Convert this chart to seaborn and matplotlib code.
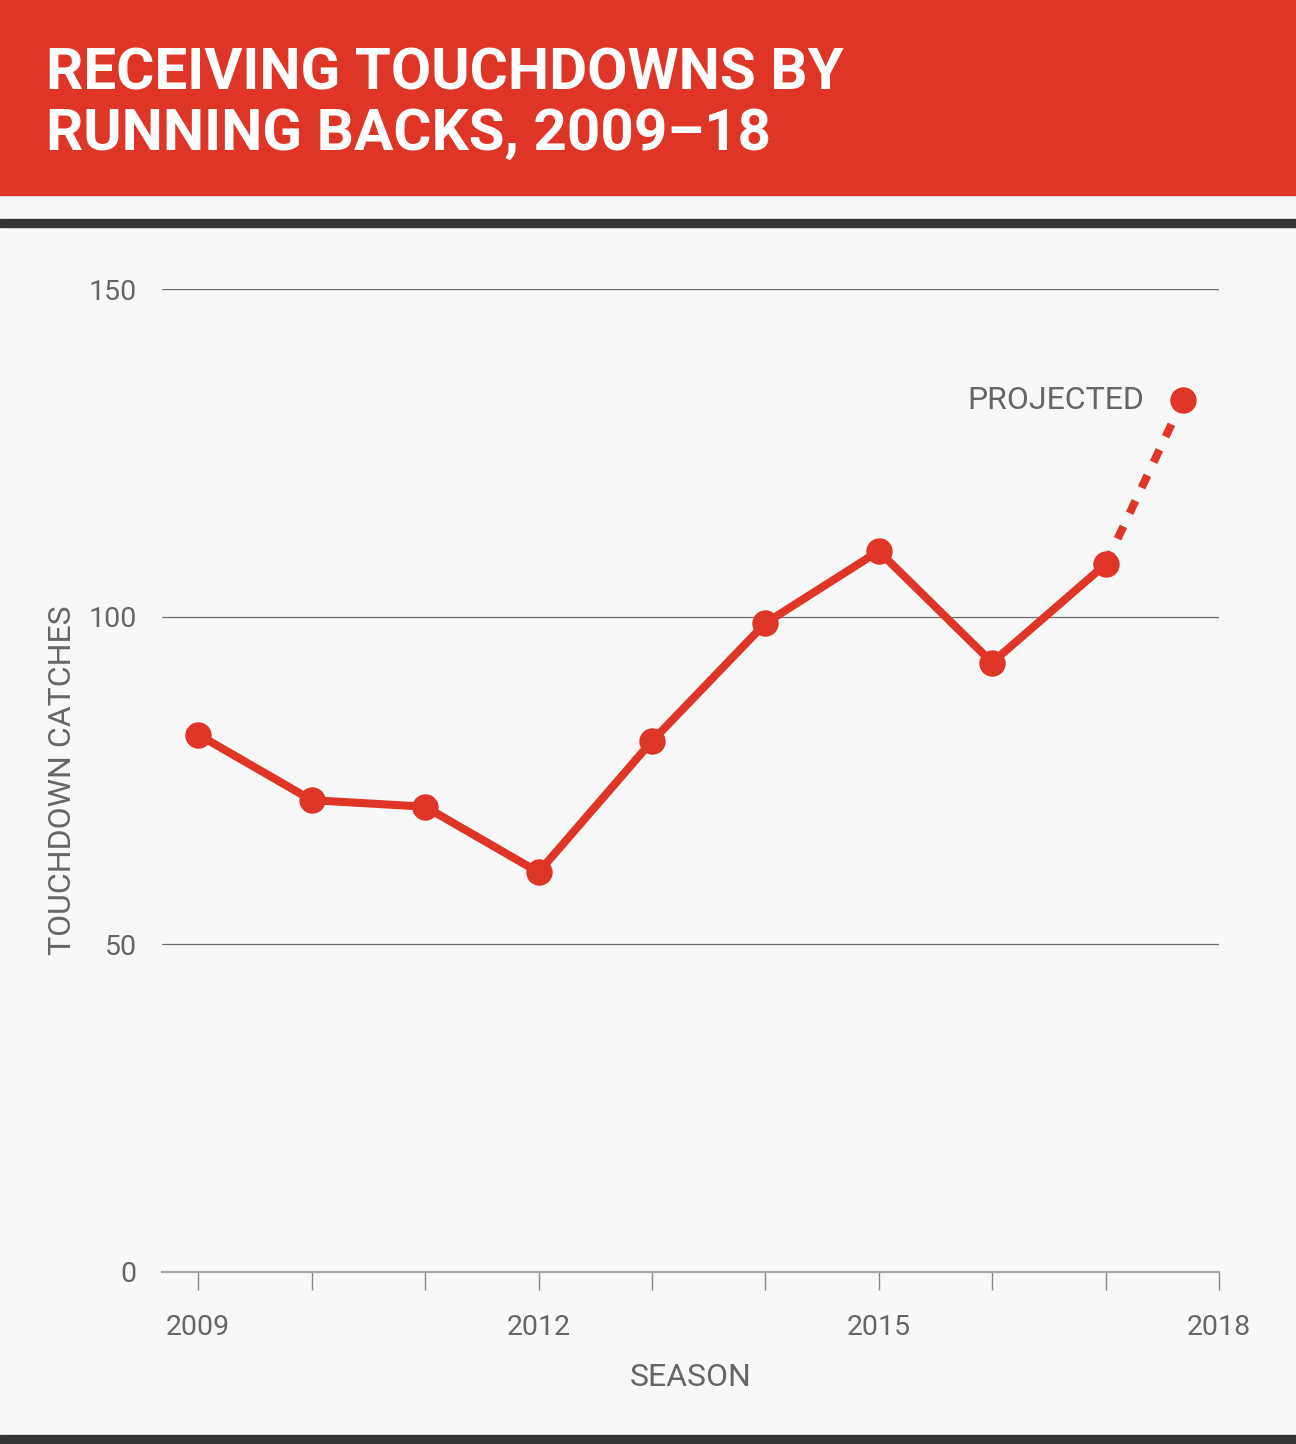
# plot.py
# Receiving touchdowns by running backs, 2009-18 (line chart with projected point)

import pandas as pd
import matplotlib.pyplot as plt
import matplotlib.patches as patches
import seaborn as sns

# Data
seasons = [2009, 2010, 2011, 2012, 2013, 2014, 2015, 2016, 2017]
catches = [82, 72, 71, 61, 81, 99, 110, 93, 108]
proj_season = 2017.68
proj_catches = 133
label_years = [2009, 2012, 2015, 2018]
all_years = list(range(2009, 2019))
y_ticks = [0, 50, 100, 150]

RED = '#de3526'
BG = '#f7f8f7'
DARK = '#363636'
TEXT = '#666666'


def main():
    sns.set_style('white')
    plt.rcParams['font.family'] = ['Roboto', 'DejaVu Sans']

    df = pd.DataFrame({'season': seasons, 'catches': catches})
    proj = pd.DataFrame({'season': [seasons[-1], proj_season],
                         'catches': [catches[-1], proj_catches]})

    fig = plt.figure(figsize=(12.96, 14.44), dpi=100)
    fig.patch.set_facecolor(BG)

    # header band and dark rules
    fig.patches.append(patches.Rectangle((0, 1 - 195 / 1444), 1, 195 / 1444,
                                         transform=fig.transFigure, color=RED, zorder=0))
    fig.patches.append(patches.Rectangle((0, 1 - 227 / 1444), 1, 8 / 1444,
                                         transform=fig.transFigure, color=DARK, zorder=0))
    fig.patches.append(patches.Rectangle((0, 0), 1, 9 / 1444,
                                         transform=fig.transFigure, color=DARK, zorder=0))

    # title, two lines
    fig.text(46 / 1296, 1 - 90 / 1444, 'RECEIVING TOUCHDOWNS BY', color='white',
             fontsize=42, fontweight='bold', ha='left', va='baseline')
    fig.text(46 / 1296, 1 - 150 / 1444, 'RUNNING BACKS, 2009\u201318', color='white',
             fontsize=42, fontweight='bold', ha='left', va='baseline')

    ax = fig.add_axes([162 / 1296, 1 - 1272 / 1444, 1057 / 1296, 983 / 1444])
    ax.set_facecolor(BG)

    # gridlines
    for v in y_ticks[1:]:
        ax.axhline(v, color='#6e6e6e', lw=0.9, zorder=1)

    # main line
    sns.lineplot(data=df, x='season', y='catches', ax=ax, color=RED, lw=5.8,
                 marker='o', markersize=19, markeredgewidth=0, zorder=3, clip_on=False)
    # projected dashed segment
    sns.lineplot(data=proj, x='season', y='catches', ax=ax, color=RED, lw=5.8,
                 dashes=False, zorder=2, clip_on=False, linestyle=(0, (1.7, 1.8)))
    ax.plot([proj_season], [proj_catches], 'o', color=RED, markersize=19,
            markeredgewidth=0, zorder=4, clip_on=False)
    ax.annotate('PROJECTED', (proj_season, proj_catches), xytext=(-28, 0),
                textcoords='offset points', ha='right', va='center',
                fontsize=23, color=TEXT)

    ax.set_xlim(2008.68, 2018)
    ax.set_ylim(0, 150)
    ax.set_xticks(all_years)
    ax.set_xticklabels([str(y) if y in label_years else '' for y in all_years])
    ax.set_yticks(y_ticks)
    ax.set_yticklabels([str(v) for v in y_ticks])
    ax.tick_params(axis='x', direction='out', length=13, width=1, color='#888888',
                   pad=17, labelsize=20.5, labelcolor=TEXT, bottom=True)
    ax.tick_params(axis='y', length=0, pad=18, labelsize=20.5, labelcolor=TEXT)

    for s in ['top', 'right', 'left']:
        ax.spines[s].set_visible(False)
    ax.spines['bottom'].set_color('#aaaaaa')
    ax.spines['bottom'].set_linewidth(1.6)

    ax.set_xlabel('SEASON', fontsize=23, color=TEXT)
    ax.set_ylabel('TOUCHDOWN CATCHES', fontsize=23, color=TEXT)
    ax.xaxis.set_label_coords(0.5, -0.093)
    ax.yaxis.set_label_coords(-0.08, 0.5)

    plt.savefig('out.png', dpi=100, facecolor=BG)
    plt.close()


if __name__ == "__main__":
    main()
